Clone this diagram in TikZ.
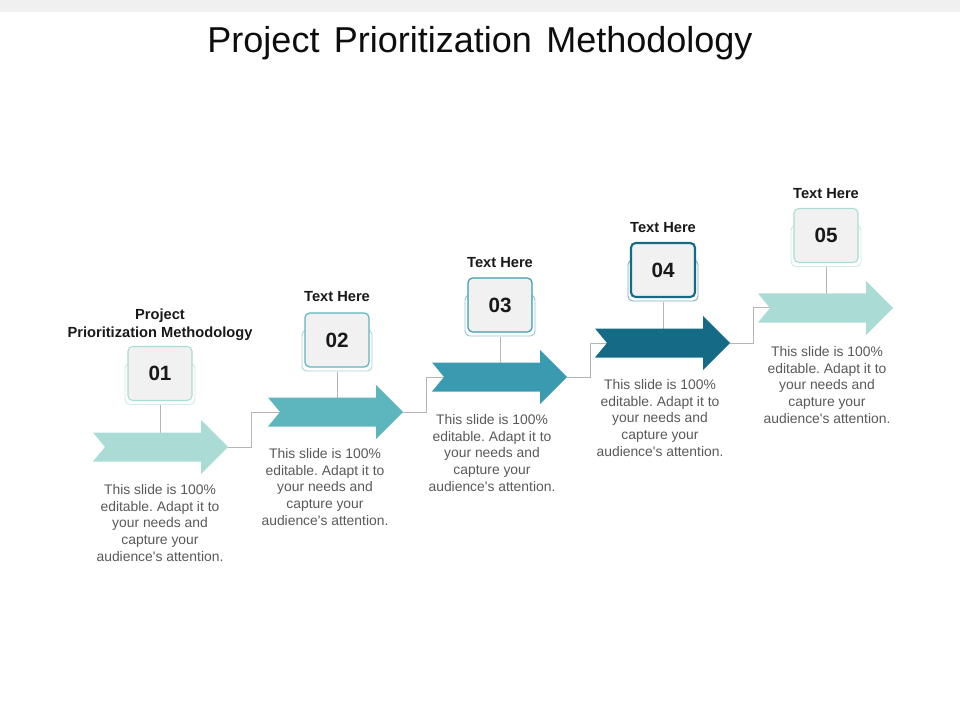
\documentclass[tikz,border=0pt]{standalone}
\usepackage{fontspec}
\setmainfont{Liberation Sans}
\frenchspacing
\definecolor{cA}{HTML}{ABDBD5}
\definecolor{cB}{HTML}{5DB5BD}
\definecolor{cC}{HTML}{3A9BB0}
\definecolor{cD}{HTML}{156A86}
\definecolor{cE}{HTML}{ABDBD5}
\definecolor{txtgray}{HTML}{595959}
\definecolor{linegray}{HTML}{B5B5B5}
\definecolor{boxgray}{HTML}{F1F1F1}
\definecolor{topgray}{HTML}{F0F0F0}
\tikzset{
  numbox/.style={rectangle, rounded corners=3.5pt, minimum width=48pt, minimum height=40.5pt,
    fill=boxgray, inner sep=0pt, line width=0.9pt, text=black!90,
    font=\bfseries\fontsize{15.5}{18}\selectfont},
  plate/.style={rounded corners=3.5pt, fill=white, line width=0.7pt},
  lbl/.style={inner sep=0pt, align=center, text=black!90, font=\bfseries\fontsize{11}{13.5}\selectfont},
  desc/.style={inner sep=0pt, align=center, text=txtgray, font=\fontsize{10.4}{12.5}\selectfont},
  conn/.style={draw=linegray, line width=0.75pt},
}
\begin{document}
\begin{tikzpicture}[x=0.75pt,y=-0.75pt]
\useasboundingbox (0,0) rectangle (960,720);
\fill[topgray] (0,0) rectangle (960,12);
\node[inner sep=0pt, font=\fontsize{27}{32}\selectfont, text=black!95] (title) at (480,43) {Project\hspace{0.4em}Prioritization\hspace{0.4em}Methodology};

% arrow reference coordinates
\foreach \i/\t/\y in {1/93/447, 2/268/412, 3/432/377, 4/595/343, 5/758/308} {
  \coordinate (tip\i) at (\t+135,\y);
  \coordinate (notch\i) at (\t+12,\y);
  \coordinate (ac\i) at (\t+67.5,\y);
}

% boxes
\foreach \i/\x/\y/\c/\lw in {1/160/373.5/cA/0.8pt, 2/337/340/cB/0.9pt, 3/500/305/cC/0.9pt, 4/663/270/cD/1.6pt, 5/826/235.5/cE/0.8pt} {
  \draw[plate, draw=\c!55] (\x-35,\y-10) rectangle (\x+35,\y+31);
  \node[numbox, draw=\c, line width=\lw] (box\i) at (\x,\y) {0\i};
}

% labels
\node[lbl] (lab1) at (160,325) {Project\\Prioritization Methodology};
\node[lbl] (lab2) at (337,297) {Text Here};
\node[lbl] (lab3) at (500,263) {Text Here};
\node[lbl] (lab4) at (663,228) {Text Here};
\node[lbl] (lab5) at (826,194) {Text Here};

% descriptions
\foreach \i/\x/\y in {1/160/523, 2/325/487, 3/492/453, 4/660/418, 5/827/385} {
  \node[desc] (desc\i) at (\x,\y) {This slide is 100\%\\editable. Adapt it to\\your needs and\\capture your\\audience\textquotesingle s attention.};
}

% connectors
\foreach \i in {1,...,5} {
  \draw[conn] ([yshift=-3pt]box\i.south) -- (box\i.south |- ac\i);
}
\foreach \i/\j in {1/2, 2/3, 3/4, 4/5} {
  \draw[conn] (tip\i) -- ++(23,0) |- (notch\j);
}

% arrows
\foreach \i/\t/\y/\c in {1/93/447/cA, 2/268/412/cB, 3/432/377/cC, 4/595/343/cD, 5/758/308/cE} {
  \fill[\c] (\t,\y-14.5) -- (\t+108,\y-14.5) -- (\t+108,\y-27) -- (\t+135,\y)
     -- (\t+108,\y+27) -- (\t+108,\y+14.5) -- (\t,\y+14.5) -- (\t+12,\y) -- cycle;
}
\end{tikzpicture}
\end{document}
